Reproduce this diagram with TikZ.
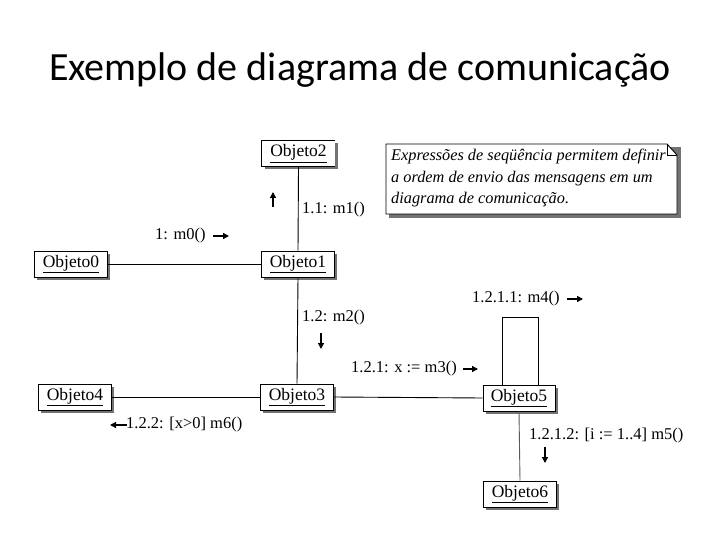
\documentclass[tikz,border=0pt]{standalone}
\usepackage{fontspec}
\setmainfont{Liberation Serif}
\newfontfamily\titlefont{Carlito}
\usetikzlibrary{arrows.meta,calc,shadows}
\begin{document}
\begin{tikzpicture}[x=1pt,y=-1pt,
  obj/.style={draw=black, fill=white, line width=0.9pt, minimum width=73pt, minimum height=26pt,
    inner sep=0pt, font=\fontsize{17.5}{19}\selectfont,
    drop shadow={shadow xshift=2.5pt, shadow yshift=-2.5pt, fill=black!55, opacity=1}},
  link/.style={draw=black, line width=0.9pt},
  lbl/.style={anchor=west, inner sep=0pt, font=\fontsize{16.5}{18}\selectfont},
  msg/.style={-{Triangle[length=6pt,width=6pt]}, line width=1.3pt}
]
\useasboundingbox (0,0) rectangle (720,540);
\node[font=\titlefont\fontsize{40}{46}\selectfont] (title) at (360,70) {Exemplo de diagrama de comunicação};

% objects
\node[obj, draw=none, drop shadow={opacity=0}] (o2) at (298.5,153.5) {\underline{Objeto2}};
\draw[link] (o2.north east) -- (o2.north west) -- (o2.south west) -- (o2.south east);
\node[obj] (o0) at (71,264) {\underline{Objeto0}};
\node[obj] (o1) at (298,264) {\underline{Objeto1}};
\node[obj] (o4) at (75,397) {\underline{Objeto4}};
\node[obj] (o3) at (297,397) {\underline{Objeto3}};
\node[obj, minimum width=72pt] (o5) at (519,398) {\underline{Objeto5}};
\node[obj] (o6) at (520,494) {\underline{Objeto6}};

% links
\draw[link] (o2.south) -- (o1.north);
\draw[link] (o1.south) -- (o3.north);
\draw[link] (o0.east) -- (o1.west);
\draw[link] (o4.east) -- (o3.west);
\draw[link] (o3.east) -- (o5.west);
\draw[link, draw=black!65] (o5.south) -- (o6.north);
\draw[link] ($(o5.north)+(-17,0)$) -- ++(0,-67) -| ($(o5.north)+(19,0)$);

% message labels
\node[lbl] (l11) at (302,210) {1.1: m1()};
\draw[msg] (273,207) -- (273,192);
\node[lbl] (l1) at (155,236) {1: m0()};
\draw[msg] (213,236) -- (229,236);
\node[lbl] (l12) at (302,318) {1.2: m2()};
\draw[msg] (321,333) -- (321,349);
\node[lbl] (l121) at (351,369) {1.2.1: x := m3()};
\draw[msg] (463,369) -- (478,369);
\node[lbl] (l1211) at (472,299) {1.2.1.1: m4()};
\draw[msg] (567,299) -- (583,299);
\node[lbl] (l1212) at (529,436) {1.2.1.2: [i := 1..4] m5()};
\draw[msg] (545,447) -- (545,463);
\node[lbl] (l122) at (126,425) {1.2.2: [x>0] m6()};
\draw[msg] (127,425) -- (110,425);

% note
\fill[black!55] (389,147) -- (681,147) -- (681,218) -- (389,218) -- cycle;
\filldraw[fill=white, draw=black, line width=0.9pt] (386,144) -- (667,144) -- (677,155) -- (677,214) -- (386,214) -- cycle;
\draw[black, line width=0.6pt] (667,144) -- (667,155) -- (677,155);
\node[anchor=north west, align=left, inner sep=0pt, font=\itshape\fontsize{16.3}{21.5}\selectfont] (note) at (391,149)
  {Expressões de seqüência permitem definir\\a ordem de envio das mensagens em um\\diagrama de comunicação.};
\end{tikzpicture}
\end{document}
